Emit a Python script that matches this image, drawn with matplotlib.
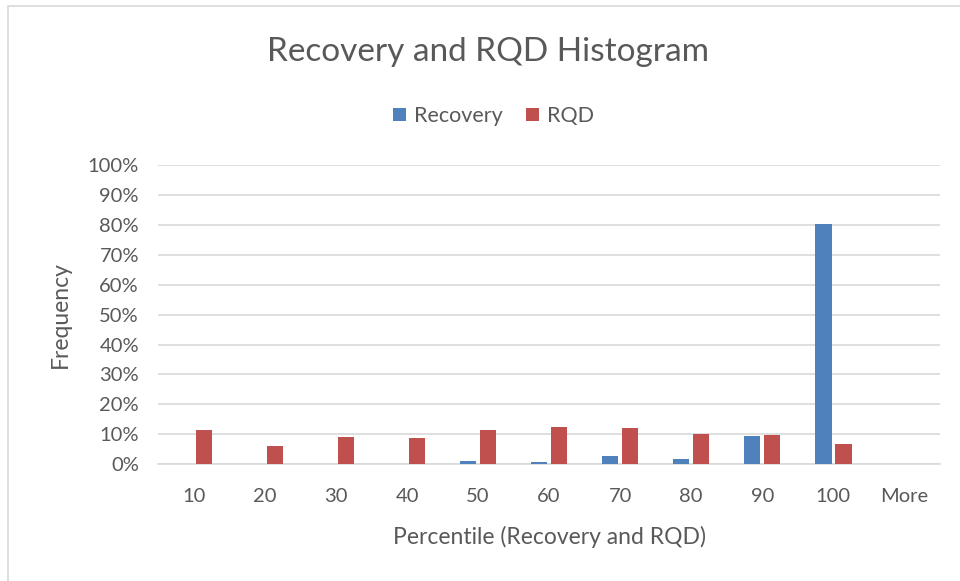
import matplotlib.pyplot as plt
import matplotlib.patches as mpatches
import numpy as np

# bins and frequencies (fraction of samples)
bins = ["10", "20", "30", "40", "50", "60", "70", "80", "90", "100", "More"]
recovery = [0.0, 0.0, 0.0, 0.0, 0.012, 0.009, 0.027, 0.018, 0.093, 0.803, 0.0]
rqd = [0.116, 0.060, 0.090, 0.086, 0.116, 0.124, 0.120, 0.102, 0.099, 0.068, 0.0]

plt.rcParams['font.family'] = ['Lato', 'DejaVu Sans']
txt = "#595959"

fig = plt.figure(figsize=(9.6, 5.81), dpi=100)
ax = fig.add_axes([0.165, 0.201, 0.814, 0.515])

x = np.arange(len(bins))
w = 0.232
ax.bar(x - 0.141, recovery, w, color="#4F81BD", label="Recovery", zorder=3)
ax.bar(x + 0.141, rqd, w, color="#C0504D", label="RQD", zorder=3)

ax.set_xlim(-0.5, len(bins) - 0.5)
ax.set_ylim(0, 1.0)
ax.set_yticks(np.arange(0, 1.01, 0.1))
ax.set_yticklabels([f"{int(round(v * 100))}%" for v in np.arange(0, 1.01, 0.1)])
ax.set_xticks(x)
ax.set_xticklabels(bins)
ax.tick_params(axis="both", length=0, labelsize=14.5, colors=txt)
ax.tick_params(axis="x", pad=17)
ax.tick_params(axis="y", pad=14)
ax.grid(axis="y", color="#D9D9D9", linewidth=1.2, zorder=0)
for s in ["top", "right", "left"]:
    ax.spines[s].set_visible(False)
ax.spines["bottom"].set_color("#D9D9D9")
ax.spines["bottom"].set_linewidth(1.2)

ax.set_xlabel("Percentile (Recovery and RQD)", fontsize=16.5, color=txt, labelpad=15)
ax.set_ylabel("Frequency", fontsize=16.5, color=txt, labelpad=12)

fig.text(0.508, 0.911, "Recovery and RQD Histogram", ha="center", va="center",
         fontsize=24, color=txt)
fig.legend(loc="center", bbox_to_anchor=(0.514, 0.8), ncol=2, frameon=False,
           fontsize=15.5, labelcolor=txt, handlelength=0.6, handleheight=0.6,
           handletextpad=0.35, columnspacing=1.1)

# chart frame (cut off on right / bottom like the screenshot)
fig.patches.append(mpatches.Rectangle((0.008, -0.05), 1.1, 1.04, fill=False,
                                      edgecolor="#D9D9D9", linewidth=1.2,
                                      transform=fig.transFigure))

fig.savefig("out.png", dpi=100)
